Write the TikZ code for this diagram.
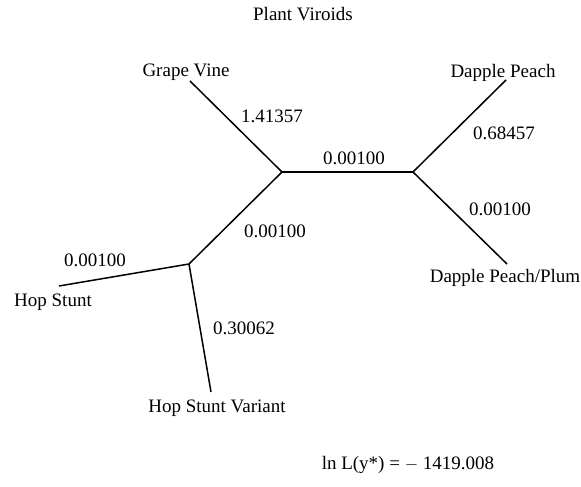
\documentclass[tikz,border=0pt]{standalone}
\usepackage{fontspec}
\setmainfont{Liberation Serif}
\begin{document}
\begin{tikzpicture}[x=1pt,y=-1pt,
  edge/.style={line width=1.5pt},
  lbl/.style={font=\fontsize{19}{22}\selectfont, inner sep=0pt}]
\useasboundingbox (0,0) rectangle (581,487);
% internal nodes and tips
\coordinate (A) at (282,172);
\coordinate (B) at (413,172);
\coordinate (C) at (189,264);
\coordinate (gv) at (190,81);
\coordinate (dp) at (506,80);
\coordinate (dpp) at (507,264);
\coordinate (hs) at (59,286);
\coordinate (hsv) at (211,392);
% edges
\draw[edge] (A) -- (gv);
\draw[edge] (A) -- (B);
\draw[edge] (B) -- (dp);
\draw[edge] (B) -- (dpp);
\draw[edge] (A) -- (C);
\draw[edge] (C) -- (hs);
\draw[edge] (C) -- (hsv);
% labels
\node[lbl] (title) at (303,14) {Plant Viroids};
\node[lbl] (lgv) at (186,72) {Grape Vine};
\node[lbl] (ldp) at (503,73) {Dapple Peach};
\node[lbl] (ldpp) at (505,278) {Dapple Peach/Plum};
\node[lbl] (lhs) at (53,302) {Hop Stunt};
\node[lbl] (lhsv) at (217,408) {Hop Stunt Variant};
\node[lbl] (e1) at (272,116) {1.41357};
\node[lbl] (e2) at (354,158) {0.00100};
\node[lbl] (e3) at (504,133) {0.68457};
\node[lbl] (e4) at (500,209) {0.00100};
\node[lbl] (e5) at (275,231) {0.00100};
\node[lbl] (e6) at (95,260) {0.00100};
\node[lbl] (e7) at (244,328) {0.30062};
\node[lbl] (lnl) at (408,465) {ln L(y*) = $-$ 1419.008};
\end{tikzpicture}
\end{document}
